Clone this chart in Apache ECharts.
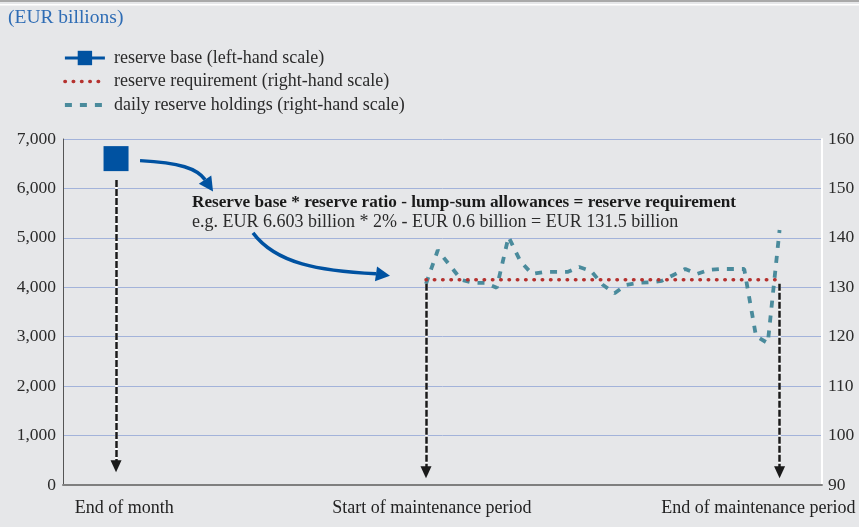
<!DOCTYPE html>
<html>
<head>
<meta charset="utf-8">
<script src="https://cdn.jsdelivr.net/npm/echarts@6/dist/echarts.min.js"></script>
<style>
html, body { margin: 0; padding: 0; background: #e6e7e9; }
#chart { width: 859px; height: 527px; }
</style>
</head>
<body>
<div id="chart"></div>
<script>
// Days counted from the start of the reserve maintenance period
const endOfMonthDay = -26.3;
const periodStartDay = 0;
const periodEndDay = 30;

// EUR billions
const reserveBase = 6603;          // left-hand scale
const reserveRequirement = 131.5;  // right-hand scale

const holdingDays = [0, 1, 2, 3, 4, 5, 6, 7, 8, 9, 10, 11, 12, 13, 14, 15,
  16, 17, 18, 19, 20, 21, 22, 23, 24, 25, 26, 27, 28, 29, 30];
const dailyHoldings = [130.7, 137.5, 134.5, 131.5, 130.9, 130.9, 129.9, 140.2,
  135.3, 132.7, 133.1, 133.1, 133.1, 134.1, 133.3, 130.5, 128.8, 130.5, 130.9,
  131.0, 131.3, 132.5, 133.7, 132.7, 133.5, 133.7, 133.7, 133.7, 120.1, 118.7, 141.6];

// Axis scales
const xRange = [-30.8, 33.6];
const leftScale = [0, 7000, 1000];
const rightScale = [90, 160, 10];

// Captions under the horizontal axis
const xLabelDays = [-25.6, 0.5, 28.2];
const xLabelTexts = ['End of month', 'Start of maintenance period', 'End of maintenance period'];

// Vertical pointer arrows: [day, from, to] on the matching scale
const monthArrow = [endOfMonthDay, 6170, 380];
const periodArrowFrom = 130.7;
const periodArrowTo = 92.6;

const seriesNames = [
  'reserve base (left-hand scale)',
  'reserve requirement (right-hand scale)',
  'daily reserve holdings (right-hand scale)'
];

const FONT = '"Liberation Serif", "DejaVu Serif", serif';
const BLUE = '#0052a1';
const RED = '#b5322f';
const TEAL = '#4a8b9c';

const redDots = { color: RED, width: 3.5, type: [0.5, 7.8], cap: 'round' };
const tealDashes = { color: TEAL, width: 3.8, type: [7, 8] };

function dashedArrow(p1, p2) {
  return [
    [{ coord: p1, symbol: 'none', lineStyle: { color: '#ffffff', width: 2.5, type: 'solid' } },
     { coord: p2, symbol: 'none' }],
    [{ coord: p1, symbol: 'none', lineStyle: { color: '#1a1a1a', width: 2.5, type: [7, 2] } },
     { coord: p2, symbol: 'triangle', symbolSize: [11, 12] }]
  ];
}

const chart = echarts.init(document.getElementById('chart'), null, { renderer: 'canvas' });

const option = {
  animation: false,
  backgroundColor: '#e6e7e9',
  textStyle: { fontFamily: FONT },
  title: {
    text: '(EUR billions)',
    left: 3, top: 3,
    textStyle: { fontFamily: FONT, fontSize: 19.5, fontWeight: 'normal', color: '#2f6db5' }
  },
  legend: {
    orient: 'vertical',
    left: 58, top: 44,
    itemWidth: 40, itemHeight: 18, itemGap: 5.5,
    data: [
      { name: seriesNames[0], lineStyle: { color: BLUE, width: 3 } },
      { name: seriesNames[1], itemStyle: { opacity: 0 }, lineStyle: redDots },
      { name: seriesNames[2], itemStyle: { opacity: 0 }, lineStyle: tealDashes }
    ],
    textStyle: { fontFamily: FONT, fontSize: 18, color: '#2b2b2b', padding: [0, 0, 0, 4] },
    selectedMode: false
  },
  grid: { left: 63, right: 37, top: 139, bottom: 42 },
  xAxis: {
    type: 'value',
    min: xRange[0], max: xRange[1],
    splitLine: { show: false },
    axisTick: { show: false },
    axisLine: { lineStyle: { color: '#7f7f7f', width: 2 } },
    axisLabel: {
      customValues: xLabelDays,
      formatter: v => xLabelTexts[xLabelDays.indexOf(v)] || '',
      fontFamily: FONT, fontSize: 18, color: '#222', margin: 14
    }
  },
  yAxis: [
    {
      type: 'value', position: 'left',
      min: leftScale[0], max: leftScale[1], interval: leftScale[2],
      axisLine: { show: true, onZero: false, lineStyle: { color: '#555', width: 1 } },
      axisTick: { show: false },
      splitLine: { lineStyle: { color: '#a3b3da', width: 1 } },
      axisLabel: {
        formatter: v => v.toLocaleString('en-US'),
        fontFamily: FONT, fontSize: 17.5, color: '#2b2b2b', margin: 7
      }
    },
    {
      type: 'value', position: 'right',
      min: rightScale[0], max: rightScale[1], interval: rightScale[2],
      axisLine: { show: true, onZero: false, lineStyle: { color: '#ffffff', width: 2 } },
      axisTick: { show: false },
      splitLine: { show: false },
      axisLabel: { fontFamily: FONT, fontSize: 17.5, color: '#2b2b2b', margin: 6 }
    }
  ],
  series: [
    {
      name: seriesNames[0],
      type: 'line',
      yAxisIndex: 0,
      data: [[endOfMonthDay, reserveBase]],
      symbol: 'rect', symbolSize: 25,
      itemStyle: { color: BLUE },
      lineStyle: { color: BLUE, width: 3 },
      z: 5,
      markLine: {
        silent: true, animation: false,
        label: { show: false },
        data: dashedArrow([monthArrow[0], monthArrow[1]], [monthArrow[0], monthArrow[2]])
      }
    },
    {
      name: seriesNames[2],
      type: 'line',
      yAxisIndex: 1,
      data: holdingDays.map((d, i) => [d, dailyHoldings[i]]),
      symbol: 'none',
      itemStyle: { color: TEAL },
      lineStyle: tealDashes,
      z: 3
    },
    {
      name: seriesNames[1],
      type: 'line',
      yAxisIndex: 1,
      data: [[periodStartDay, reserveRequirement], [periodEndDay, reserveRequirement]],
      symbol: 'none',
      lineStyle: redDots,
      itemStyle: { color: RED },
      z: 4,
      markLine: {
        silent: true, animation: false,
        label: { show: false },
        data: [
          ...dashedArrow([periodStartDay, periodArrowFrom], [periodStartDay, periodArrowTo]),
          ...dashedArrow([periodEndDay, periodArrowFrom], [periodEndDay, periodArrowTo])
        ]
      }
    }
  ]
};

chart.setOption(option);

// Curved explanatory arrows, anchored to the reserve base point and the start of the requirement line
function curvedArrow(o, pts) {
  const [s, c1, c2, e, t] = pts.map(p => [o[0] + p[0], o[1] + p[1]]);
  const dx = t[0] - e[0], dy = t[1] - e[1];
  const len = Math.hypot(dx, dy);
  const nx = -dy / len * 7.5, ny = dx / len * 7.5;
  return [
    {
      type: 'bezierCurve',
      shape: { x1: s[0], y1: s[1], cpx1: c1[0], cpy1: c1[1], cpx2: c2[0], cpy2: c2[1], x2: e[0], y2: e[1] },
      style: { stroke: BLUE, lineWidth: 3.5, fill: null },
      z: 10
    },
    {
      type: 'polygon',
      shape: { points: [t, [e[0] + nx, e[1] + ny], [e[0] - nx, e[1] - ny]] },
      style: { fill: BLUE },
      z: 10
    }
  ];
}

const basePx = chart.convertToPixel({ xAxisIndex: 0, yAxisIndex: 0 }, [endOfMonthDay, reserveBase]);
const reqPx = chart.convertToPixel({ xAxisIndex: 0, yAxisIndex: 1 }, [periodStartDay, reserveRequirement]);

chart.setOption({
  graphic: [
    { type: 'rect', left: 0, top: 0, shape: { width: 859, height: 2 }, style: { fill: '#a9a9a9' }, silent: true },
    { type: 'rect', left: 0, top: 4, shape: { width: 859, height: 1.5 }, style: { fill: '#ffffff' }, silent: true },
    ...curvedArrow(basePx, [[24, 2], [64, 4], [81, 10], [89, 21], [97, 33]]),
    ...curvedArrow(reqPx, [[-173, -47], [-150, -16], [-106, -9], [-50, -6], [-36, -4]]),
    {
      type: 'text', left: 192, top: 194, z: 11,
      style: {
        text: 'Reserve base * reserve ratio - lump-sum allowances = reserve requirement',
        font: 'bold 17.2px ' + FONT, fill: '#1a1a1a'
      }
    },
    {
      type: 'text', left: 192, top: 213, z: 11,
      style: {
        text: 'e.g. EUR 6.603 billion * 2% - EUR 0.6 billion = EUR 131.5 billion',
        font: '18px ' + FONT, fill: '#2b2b2b'
      }
    }
  ]
});
</script>
</body>
</html>
